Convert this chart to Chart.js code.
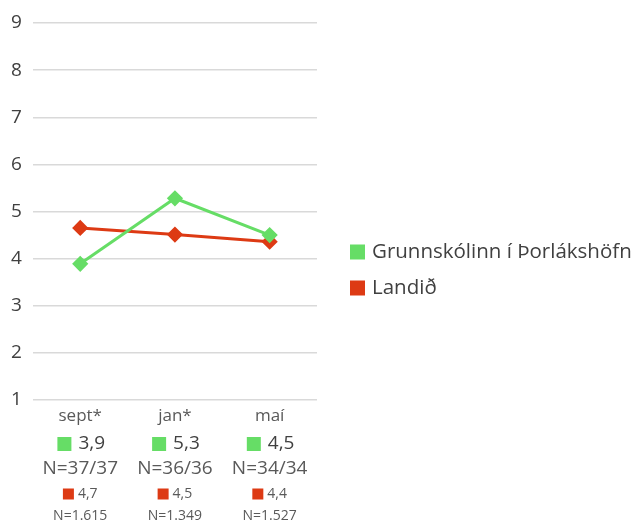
<!DOCTYPE html>
<html>
<head>
<meta charset="utf-8">
<script src="https://cdn.jsdelivr.net/npm/chart.js@4/dist/chart.umd.min.js"></script>
<style>
html,body{margin:0;padding:0;background:#fff;}
#wrap{width:635px;height:526px;position:relative;}
</style>
</head>
<body>
<div id="wrap"><canvas id="c" width="635" height="526"></canvas></div>
<script>
const categories = ['sept*', 'jan*', 'maí'];
const seriesNames = ['Grunnskólinn í Þorlákshöfn', 'Landið'];
const schoolValues = [3.89, 5.28, 4.5];
const nationalValues = [4.65, 4.51, 4.36];
const schoolLabels = ['3,9', '5,3', '4,5'];
const schoolN = ['N=37/37', 'N=36/36', 'N=34/34'];
const nationalLabels = ['4,7', '4,5', '4,4'];
const nationalN = ['N=1.615', 'N=1.349', 'N=1.527'];
const yTicks = [1, 2, 3, 4, 5, 6, 7, 8, 9];

const GREEN = '#66dd66';
const RED = '#dd3a14';
const FONT = '"Open Sans", Lato, sans-serif';

const labelPlugin = {
  id: 'multiLabels',
  afterDraw(chart) {
    const ctx = chart.ctx;
    const xs = chart.scales.x;
    ctx.save();
    ctx.textBaseline = 'middle';
    categories.forEach((cat, i) => {
      const x = xs.getPixelForValue(i);
      ctx.font = '17px ' + FONT;
      ctx.fillStyle = '#595959';
      ctx.textAlign = 'center';
      ctx.fillText(cat, x, 416);
      ctx.font = '19px ' + FONT;
      let t = schoolLabels[i];
      let tw = ctx.measureText(t).width;
      let sq = 14, gap = 7;
      let total = sq + gap + tw;
      let sx = x - total / 2 + 1;
      ctx.fillStyle = GREEN;
      ctx.fillRect(sx, 444 - sq / 2, sq, sq);
      ctx.fillStyle = '#404040';
      ctx.textAlign = 'left';
      ctx.fillText(t, sx + sq + gap, 444);
      ctx.textAlign = 'center';
      ctx.fillStyle = '#595959';
      ctx.fillText(schoolN[i], x, 469);
      ctx.font = '14px ' + FONT;
      t = nationalLabels[i];
      tw = ctx.measureText(t).width;
      sq = 11; gap = 4;
      total = sq + gap + tw;
      sx = x - total / 2;
      ctx.fillStyle = RED;
      ctx.fillRect(sx, 494 - sq / 2, sq, sq);
      ctx.fillStyle = '#595959';
      ctx.textAlign = 'left';
      ctx.fillText(t, sx + sq + gap, 494);
      ctx.textAlign = 'center';
      ctx.fillText(nationalN[i], x, 516);
    });
    const lx = chart.chartArea.right + 33;
    const items = [[seriesNames[0], GREEN, 252], [seriesNames[1], RED, 288]];
    ctx.font = '20.5px ' + FONT;
    ctx.textAlign = 'left';
    items.forEach(([name, col, y]) => {
      ctx.fillStyle = col;
      ctx.fillRect(lx, y - 7.5, 15, 15);
      ctx.fillStyle = '#404040';
      ctx.fillText(name, lx + 22, y);
    });
    ctx.restore();
  }
};

new Chart(document.getElementById('c'), {
  type: 'line',
  data: {
    labels: categories,
    datasets: [
      {
        label: seriesNames[0],
        data: schoolValues,
        borderColor: GREEN,
        backgroundColor: GREEN,
        borderWidth: 3,
        pointStyle: 'rectRot',
        pointRadius: 6,
        pointHoverRadius: 6,
        tension: 0,
        order: 1
      },
      {
        label: seriesNames[1],
        data: nationalValues,
        borderColor: RED,
        backgroundColor: RED,
        borderWidth: 3,
        pointStyle: 'rectRot',
        pointRadius: 6,
        pointHoverRadius: 6,
        tension: 0,
        order: 2
      }
    ]
  },
  options: {
    responsive: false,
    animation: false,
    devicePixelRatio: 1,
    layout: { padding: { left: 0, top: 23, right: 318, bottom: 126 } },
    plugins: { legend: { display: false }, tooltip: { enabled: false } },
    scales: {
      x: {
        display: false,
        offset: true
      },
      y: {
        min: 1,
        max: 9,
        afterBuildTicks(scale) { scale.ticks = yTicks.map(v => ({ value: v })); },
        grid: { color: '#d9d9d9', lineWidth: 1.5, drawTicks: false, tickLength: 0 },
        border: { display: false },
        ticks: {
          color: '#404040',
          font: { family: FONT, size: 19 },
          padding: 11
        }
      }
    }
  },
  plugins: [labelPlugin]
});
</script>
</body>
</html>
